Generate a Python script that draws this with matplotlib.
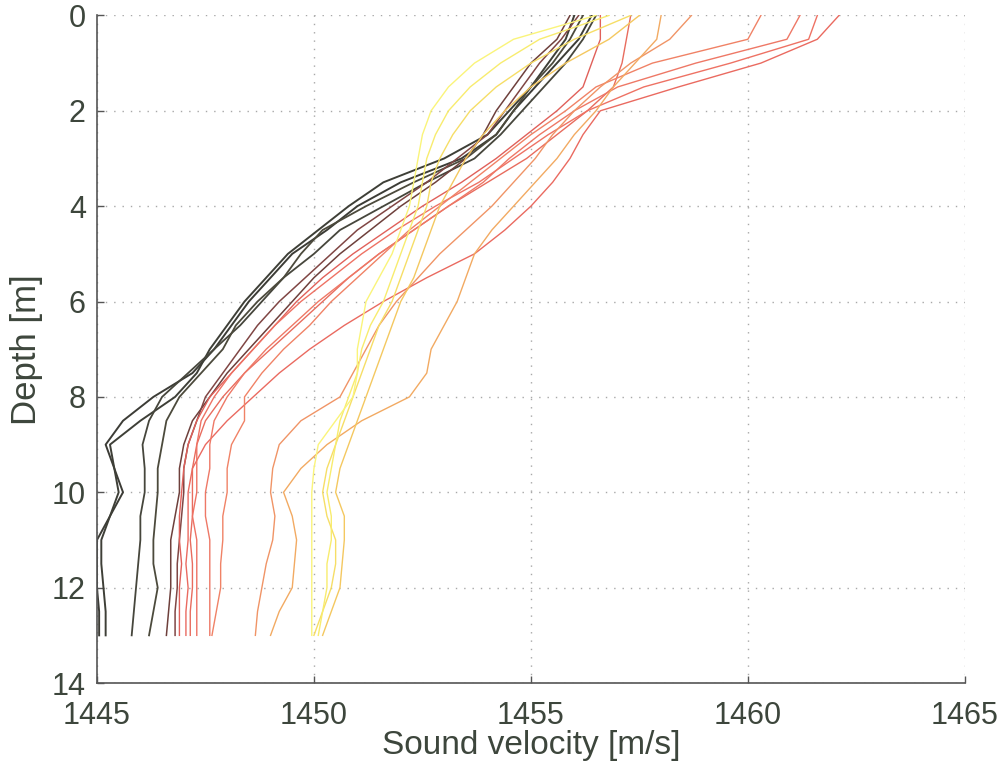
import numpy as np
import matplotlib
matplotlib.use("Agg")
import matplotlib.pyplot as plt

# depth levels of every CTD cast [m]
depth = np.arange(0, 13.5, 0.5)

# sound velocity profiles [m/s], earliest cast first
cast_01 = [1456.4, 1456.1, 1455.6, 1455.1, 1454.6, 1454.2, 1453.4, 1452.0, 1451.0, 1450.3, 1449.5, 1449.0, 1448.5, 1448.1,
           1447.7, 1447.2, 1446.3, 1445.6, 1445.2, 1445.4, 1445.6, 1445.3, 1445.0, 1445.0, 1445.0, 1445.05, 1445.05]
cast_02 = [1456.0, 1455.8, 1455.4, 1455.0, 1454.5, 1454.0, 1453.0, 1451.6, 1450.8, 1450.1, 1449.4, 1448.9, 1448.4, 1448.0,
           1447.6, 1447.3, 1446.8, 1446.0, 1445.3, 1445.4, 1445.5, 1445.3, 1445.1, 1445.1, 1445.15, 1445.2, 1445.2]
cast_03 = [1456.5, 1456.2, 1455.8, 1455.3, 1454.8, 1454.3, 1453.7, 1452.6, 1451.6, 1450.6, 1450.0, 1449.3, 1448.8, 1448.3,
           1447.7, 1447.1, 1446.5, 1446.2, 1446.05, 1446.1, 1446.1, 1446.0, 1446.0, 1445.95, 1445.9, 1445.85, 1445.8]
cast_04 = [1456.2, 1455.9, 1455.5, 1455.0, 1454.6, 1454.2, 1453.5, 1452.3, 1451.2, 1450.2, 1449.7, 1449.3, 1448.7, 1448.2,
           1447.9, 1447.4, 1446.9, 1446.6, 1446.5, 1446.4, 1446.4, 1446.35, 1446.3, 1446.3, 1446.4, 1446.3, 1446.2]
cast_05 = [1455.9, 1455.6, 1455.0, 1454.6, 1454.2, 1453.9, 1453.5, 1452.8, 1452.0, 1451.3, 1450.6, 1450.0, 1449.5, 1449.0,
           1448.5, 1448.0, 1447.6, 1447.2, 1447.0, 1446.9, 1446.9, 1446.8, 1446.7, 1446.7, 1446.7, 1446.65, 1446.6]
cast_06 = [1456.1, 1455.7, 1455.2, 1454.8, 1454.4, 1454.0, 1453.3, 1452.6, 1451.8, 1451.0, 1450.4, 1449.8, 1449.2, 1448.7,
           1448.3, 1447.9, 1447.5, 1447.3, 1447.1, 1447.0, 1447.0, 1446.95, 1446.9, 1446.85, 1446.85, 1446.8, 1446.8]
cast_07 = [1456.6, 1456.6, 1456.4, 1456.2, 1455.6, 1454.9, 1454.2, 1453.4, 1452.5, 1451.7, 1450.9, 1450.2, 1449.6, 1449.1,
           1448.6, 1448.1, 1447.6, 1447.3, 1447.1, 1447.0, 1446.95, 1446.9, 1446.9, 1446.95, 1446.9, 1446.9, 1446.9]
cast_08 = [1462.1, 1461.6, 1460.3, 1458.4, 1456.6, 1456.2, 1455.9, 1455.5, 1455.0, 1454.4, 1453.7, 1452.6, 1451.6, 1450.7,
           1449.9, 1449.2, 1448.6, 1448.0, 1447.5, 1447.2, 1447.1, 1447.1, 1447.1, 1447.05, 1447.1, 1447.05, 1447.05]
cast_09 = [1457.3, 1457.2, 1457.1, 1456.9, 1456.3, 1455.6, 1454.9, 1454.0, 1453.1, 1452.3, 1451.5, 1450.8, 1450.2, 1449.6,
           1449.0, 1448.4, 1447.9, 1447.5, 1447.3, 1447.2, 1447.2, 1447.2, 1447.15, 1447.2, 1447.2, 1447.15, 1447.15]
cast_10 = [1461.6, 1461.4, 1459.6, 1457.6, 1456.3, 1455.4, 1454.6, 1453.8, 1452.8, 1451.9, 1451.1, 1450.4, 1449.7, 1449.1,
           1448.6, 1448.1, 1447.7, 1447.4, 1447.3, 1447.3, 1447.3, 1447.2, 1447.3, 1447.3, 1447.3, 1447.3, 1447.3]
cast_11 = [1461.2, 1460.9, 1458.8, 1457.0, 1456.0, 1455.2, 1454.5, 1453.9, 1453.1, 1452.3, 1451.5, 1450.8, 1450.1, 1449.5,
           1448.9, 1448.4, 1448.0, 1447.7, 1447.6, 1447.6, 1447.5, 1447.5, 1447.6, 1447.6, 1447.6, 1447.6, 1447.6]
cast_12 = [1460.3, 1460.0, 1457.8, 1456.5, 1455.8, 1455.0, 1454.3, 1453.6, 1452.9, 1452.2, 1451.6, 1451.0, 1450.4, 1449.9,
           1449.3, 1448.8, 1448.4, 1448.4, 1448.1, 1448.0, 1448.0, 1447.9, 1447.9, 1447.85, 1447.85, 1447.75, 1447.65]
cast_13 = [1458.7, 1458.2, 1457.3, 1456.6, 1456.0, 1455.5, 1455.1, 1454.6, 1454.1, 1453.5, 1452.9, 1452.4, 1451.9, 1451.5,
           1451.2, 1450.9, 1450.6, 1449.7, 1449.2, 1449.05, 1449.0, 1449.1, 1449.05, 1448.9, 1448.8, 1448.7, 1448.65]
cast_14 = [1458.0, 1457.9, 1457.4, 1456.9, 1456.5, 1456.0, 1455.6, 1455.1, 1454.6, 1454.1, 1453.7, 1453.5, 1453.3, 1453.0,
           1452.7, 1452.6, 1452.2, 1451.1, 1450.3, 1449.7, 1449.3, 1449.5, 1449.6, 1449.55, 1449.5, 1449.2, 1449.0]
cast_15 = [1457.5, 1456.8, 1455.8, 1455.0, 1454.4, 1453.9, 1453.5, 1453.2, 1452.9, 1452.7, 1452.5, 1452.3, 1452.0, 1451.8,
           1451.6, 1451.4, 1451.2, 1451.0, 1450.8, 1450.6, 1450.5, 1450.7, 1450.7, 1450.65, 1450.6, 1450.4, 1450.2]
cast_16 = [1457.3, 1456.0, 1455.0, 1454.2, 1453.6, 1453.2, 1452.9, 1452.7, 1452.6, 1452.4, 1452.2, 1452.0, 1451.8, 1451.5,
           1451.3, 1451.1, 1450.9, 1450.7, 1450.5, 1450.3, 1450.2, 1450.3, 1450.5, 1450.5, 1450.4, 1450.2, 1450.0]
cast_17 = [1456.8, 1455.2, 1454.3, 1453.6, 1453.1, 1452.8, 1452.6, 1452.5, 1452.4, 1452.2, 1452.0, 1451.8, 1451.6, 1451.3,
           1451.1, 1451.0, 1450.8, 1450.6, 1450.5, 1450.4, 1450.3, 1450.4, 1450.4, 1450.3, 1450.3, 1450.2, 1450.1]
cast_18 = [1456.5, 1454.6, 1453.7, 1453.1, 1452.7, 1452.5, 1452.4, 1452.3, 1452.2, 1452.0, 1451.8, 1451.5, 1451.2, 1451.1,
           1451.0, 1451.0, 1450.9, 1450.5, 1450.1, 1450.0, 1449.95, 1449.95, 1449.95, 1449.95, 1449.95, 1449.95, 1449.95]

casts = [cast_01, cast_02, cast_03, cast_04, cast_05, cast_06, cast_07, cast_08, cast_09,
         cast_10, cast_11, cast_12, cast_13, cast_14, cast_15, cast_16, cast_17, cast_18]

# colour per cast, dark -> red -> yellow with time
line_colors = ["#3c3c36", "#3e3f37", "#46463c", "#4c4a3c", "#6e403c", "#804644",
               "#e0605a", "#ea6a60", "#e86c5e", "#ee7264", "#ee7866", "#f08266",
               "#f09466", "#f2aa62", "#f4c860", "#f6de66", "#f8ec6e", "#faf47a"]
line_widths = [1.4, 1.4, 1.3, 1.3, 1.1, 1.1] + [1.0] * 12

txt = "#3d463c"
plt.rcParams['font.family'] = ['Liberation Sans', 'DejaVu Sans']

fig = plt.figure(figsize=(10.08, 7.63), dpi=100)
ax = fig.add_axes([0.0962, 0.1048, 0.861, 0.875])

for vv, col, lw in zip(casts, line_colors, line_widths):
    ax.plot(vv, depth, color=col, linewidth=lw)

ax.set_xlim(1445, 1465)
ax.set_ylim(14, 0)
ax.set_xticks([1445, 1450, 1455, 1460, 1465])
ax.set_yticks(range(0, 15, 2))

ax.grid(True, color="#a8a8a8", linestyle=(0, (1, 5)), linewidth=1.0)
for side in ["top", "right"]:
    ax.spines[side].set_visible(False)
for side in ["left", "bottom"]:
    ax.spines[side].set_color("#555555")
    ax.spines[side].set_linewidth(1.2)

ax.tick_params(direction="in", length=5, width=1, color="#555555",
               labelsize=22, labelcolor=txt)
ax.tick_params(axis="x", pad=13)
ax.tick_params(axis="y", pad=8)

ax.set_xlabel("Sound velocity [m/s]", fontsize=24, color=txt, labelpad=-1)
ax.set_ylabel("Depth [m]", fontsize=25, color=txt, labelpad=6)

fig.savefig("out.png", dpi=100)
